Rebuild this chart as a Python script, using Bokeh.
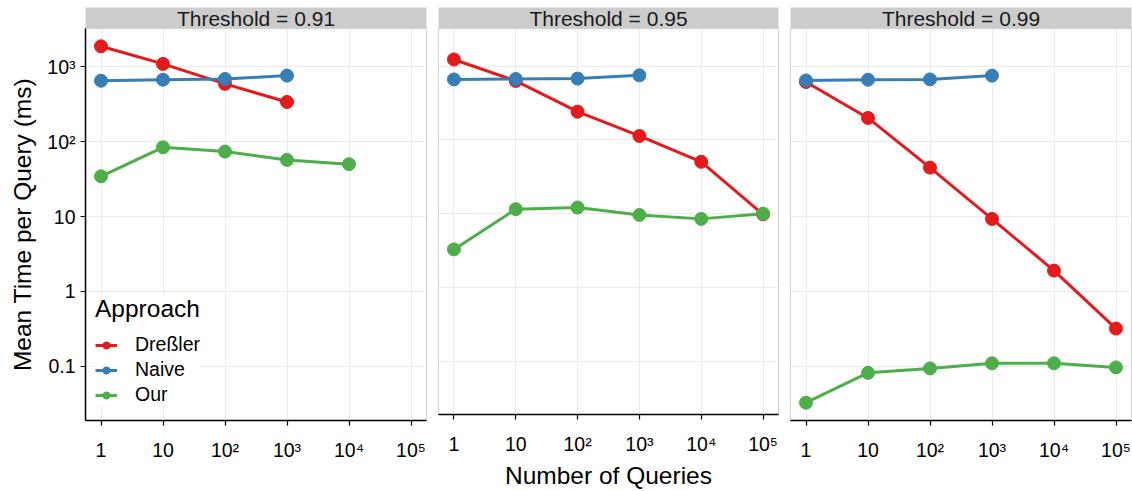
import math
from bokeh.plotting import figure
from bokeh.models import Range1d, FixedTicker, Legend, LegendItem, Grid
from bokeh.layouts import row, column
from bokeh.core.properties import value
from bokeh.embed import file_html
from bokeh.resources import INLINE

# ---------------- data ----------------
thresholds = ["0.91", "0.95", "0.99"]
approaches = ["Dreßler", "Naive", "Our"]
queries = [1, 10, 100, 1000, 10000, 100000]

dressler_091 = [1870, 1090, 590, 338]
naive_091 = [650, 670, 685, 760]
our_091 = [34.4, 84, 73.6, 57, 50]

dressler_095 = [1230, 630, 241, 113, 50.5, 9.8]
naive_095 = [660, 670, 677, 750]
our_095 = [3.28, 11.5, 12.1, 9.6, 8.5, 10.0]

dressler_099 = [625, 207, 45, 9.3, 1.9, 0.32]
naive_099 = [655, 670, 677, 760]
our_099 = [0.0328, 0.082, 0.094, 0.11, 0.11, 0.097]

y_ticks = [0.1, 1, 10, 100, 1000]
y_tick_labels = ["0.1", "1", "10", "10²", "10³"]
x_tick_labels = ["1", "10", "10²", "10³", "10⁴", "10⁵"]

colors = {"Dreßler": "#E41A1C", "Naive": "#377EB8", "Our": "#4DAF4A"}

panels = {
    "0.91": {"Dreßler": dressler_091, "Naive": naive_091, "Our": our_091},
    "0.95": {"Dreßler": dressler_095, "Naive": naive_095, "Our": our_095},
    "0.99": {"Dreßler": dressler_099, "Naive": naive_099, "Our": our_099},
}

FONT = "Liberation Sans"

# shared ranges with ggplot-like 5% expansion in log space
all_y = [v for d in panels.values() for s in d.values() for v in s]
ly0, ly1 = math.log10(min(all_y)), math.log10(max(all_y))
ey = 0.05 * (ly1 - ly0)
lx0, lx1 = math.log10(min(queries)), math.log10(max(queries))
ex = 0.05 * (lx1 - lx0)

FRAME_WS = [341, 340, 341]
PANEL_H = 463
STRIP_H = 28
STRIP_TOP = 7
BOTTOM = 71
borders = [(85, 6), (6, 6), (6, 1)]

cols = []
for i, t in enumerate(thresholds):
    bl, br = borders[i]
    w = bl + FRAME_WS[i] + br
    p = figure(width=w, height=PANEL_H,
               x_axis_type="log", y_axis_type="log",
               x_range=Range1d(10 ** (lx0 - ex), 10 ** (lx1 + ex)),
               y_range=Range1d(10 ** (ly0 - ey), 10 ** (ly1 + ey)),
               output_backend="svg", toolbar_location=None,
               y_axis_location="left" if i == 0 else None,
               min_border_left=bl, min_border_right=br,
               min_border_top=0, min_border_bottom=BOTTOM)
    p.outline_line_color = "#D0D0D0"
    p.outline_line_width = 1
    p.background_fill_color = "white"
    p.border_fill_color = "white"

    # x axis
    xa = p.xaxis[0]
    xa.ticker = FixedTicker(ticks=queries)
    xa.major_label_overrides = {float(q): lab for q, lab in zip(queries, x_tick_labels)}
    xa.minor_tick_line_color = None
    xa.major_tick_in = 0
    xa.major_tick_out = 5
    xa.major_tick_line_color = "black"
    xa.major_tick_line_width = 1.2
    xa.axis_line_color = "black"
    xa.axis_line_width = 1.5
    xa.major_label_text_font = FONT
    xa.major_label_text_font_size = "19.5px"
    xa.major_label_text_color = "black"
    xa.major_label_standoff = 13
    if i == 1:
        xa.axis_label = "Number of Queries"
        xa.axis_label_text_font = FONT
        xa.axis_label_text_font_size = "24.5px"
        xa.axis_label_text_font_style = "normal"
        xa.axis_label_text_color = "black"
        xa.axis_label_standoff = 4

    p.xgrid.ticker = FixedTicker(ticks=queries)
    p.xgrid.grid_line_color = "#EBEBEB"
    p.xgrid.grid_line_width = 1

    if i == 0:
        ya = p.yaxis[0]
        ya.ticker = FixedTicker(ticks=y_ticks)
        ya.major_label_overrides = {float(v): lab for v, lab in zip(y_ticks, y_tick_labels)}
        ya.minor_tick_line_color = None
        ya.major_tick_in = 0
        ya.major_tick_out = 5
        ya.major_tick_line_color = "black"
        ya.major_tick_line_width = 1.2
        ya.axis_line_color = "black"
        ya.axis_line_width = 1.5
        ya.major_label_text_font = FONT
        ya.major_label_text_font_size = "19.5px"
        ya.major_label_text_color = "black"
        ya.major_label_standoff = 5
        ya.axis_label = "Mean Time per Query (ms)"
        ya.axis_label_text_font = FONT
        ya.axis_label_text_font_size = "24.5px"
        ya.axis_label_text_font_style = "normal"
        ya.axis_label_text_color = "black"
        ya.axis_label_standoff = 8
        p.ygrid.ticker = FixedTicker(ticks=y_ticks)
        p.ygrid.grid_line_color = "#EBEBEB"
    else:
        g = Grid(dimension=1, ticker=FixedTicker(ticks=y_ticks),
                 grid_line_color="#EBEBEB", grid_line_width=1)
        p.add_layout(g)

    lines, pts = {}, {}
    for a in approaches:
        ys = panels[t][a]
        xs = queries[:len(ys)]
        lines[a] = p.line(xs, ys, line_color=colors[a], line_width=3)
    for a in approaches:
        ys = panels[t][a]
        xs = queries[:len(ys)]
        pts[a] = p.scatter(xs, ys, size=13, fill_color=colors[a], line_color=colors[a])

    if i == 0:
        items = [LegendItem(label=a, renderers=[lines[a], pts[a]]) for a in approaches]
        leg = Legend(items=items, location=(10, 14), title="Approach",
                     title_text_font=FONT, title_text_font_size="24.5px",
                     title_text_font_style="normal", title_text_color="black",
                     title_standoff=10,
                     label_text_font=FONT, label_text_font_size="19.5px",
                     label_text_color="black",
                     glyph_width=22, glyph_height=18, label_height=18,
                     label_standoff=18, spacing=2, padding=7, margin=0,
                     border_line_color=None, background_fill_color="white",
                     background_fill_alpha=1)
        p.add_layout(leg)

    # strip on top of the panel
    s = figure(width=w, height=STRIP_H, x_range=Range1d(0, 1), y_range=Range1d(0, 1),
               output_backend="svg", toolbar_location=None,
               x_axis_location=None, y_axis_location=None,
               min_border_left=bl, min_border_right=br,
               min_border_top=STRIP_TOP, min_border_bottom=0)
    s.background_fill_color = "#CCCCCC"
    s.border_fill_color = "white"
    s.outline_line_color = None
    s.xgrid.visible = False
    s.ygrid.visible = False
    s.text(x=[0.5], y=[0.5], text=[f"Threshold = {t}"], text_align="center",
           text_baseline="middle", text_font=value(FONT), text_font_size="21px",
           text_color="#1A1A1A")

    cols.append(column(s, p, spacing=0))

layout = row(*cols, spacing=0)

open("out.html", "w").write(file_html(layout, INLINE))
